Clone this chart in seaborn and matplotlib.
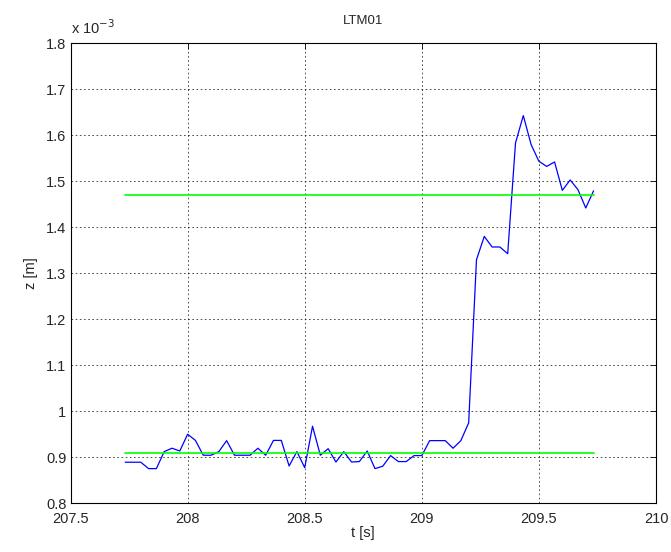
import numpy as np
import pandas as pd
import matplotlib
matplotlib.use("Agg")
import matplotlib.pyplot as plt
import seaborn as sns

# Sampled displacement, 30 Hz, values in units of 1e-3 m
t0 = 207.7333
fs = 30.0
z = [
    0.8896, 0.8896, 0.8896, 0.8757, 0.8757, 0.9126, 0.9200, 0.9140, 0.9504, 0.9370,
    0.9048, 0.9048, 0.9126, 0.9365, 0.9048, 0.9048, 0.9048, 0.9200, 0.9048, 0.9370,
    0.9370, 0.8815, 0.9126, 0.8778, 0.9678, 0.9048, 0.9190, 0.8900, 0.9126, 0.8900,
    0.8910, 0.9140, 0.8757, 0.8810, 0.9040, 0.8910, 0.8910, 0.9040, 0.9040, 0.9365,
    0.9365, 0.9365, 0.9200, 0.9365, 0.9750, 1.3293, 1.3800, 1.3570, 1.3570, 1.3424,
    1.5830, 1.6424, 1.5793, 1.5430, 1.5320, 1.5417, 1.4800, 1.5026, 1.4815, 1.4417,
    1.4790,
]
t = [t0 + i / fs for i in range(len(z))]

# Reference levels (before / after the step)
level_low = 0.9104
level_high = 1.4707
level_t = [t[0], t[-1]]

x_ticks = [207.5, 208, 208.5, 209, 209.5, 210]
x_labels = ["207.5", "208", "208.5", "209", "209.5", "210"]
y_ticks = [0.8, 0.9, 1.0, 1.1, 1.2, 1.3, 1.4, 1.5, 1.6, 1.7, 1.8]
y_labels = ["0.8", "0.9", "1", "1.1", "1.2", "1.3", "1.4", "1.5", "1.6", "1.7", "1.8"]

sns.set_style("white")
plt.rcParams["font.family"] = ["Liberation Sans", "DejaVu Sans"]

fig = plt.figure(figsize=(6.71, 5.52), dpi=100)
ax = fig.add_axes([0.1051, 0.0879, 0.8726, 0.8342])

df = pd.DataFrame({"t": t, "z": z})
sns.lineplot(data=df, x="t", y="z", ax=ax, color=(0, 0, 1), linewidth=0.9)
levels = pd.DataFrame({"t": level_t + level_t,
                       "z": [level_low, level_low, level_high, level_high],
                       "which": ["low", "low", "high", "high"]})
sns.lineplot(data=levels, x="t", y="z", units="which", estimator=None, ax=ax,
             color=(0, 1, 0), linewidth=1.2)

ax.set_xlim(207.5, 210)
ax.set_ylim(0.8, 1.8)
ax.set_xticks(x_ticks)
ax.set_xticklabels(x_labels)
ax.set_yticks(y_ticks)
ax.set_yticklabels(y_labels)
ax.tick_params(direction="in", length=4, width=0.6, labelsize=10.5,
               top=True, right=True, color="black")
ax.tick_params(axis="x", pad=6)
ax.tick_params(axis="y", pad=3)

ax.grid(True, color="black", linestyle=(0, (2, 3)), linewidth=0.6, alpha=0.8)
for s in ax.spines.values():
    s.set_color("black")
    s.set_linewidth(0.8)
    s.set_visible(True)

ax.set_xlabel("t [s]", fontsize=10.5, labelpad=0)
ax.set_ylabel("z [m]", fontsize=10.5, labelpad=6)
ax.set_title("LTM01", fontsize=9.5, pad=14)
ax.text(0.0, 1.012, r"x 10$^{-3}$", transform=ax.transAxes, fontsize=10.5,
        ha="left", va="bottom")

fig.savefig("out.png", dpi=100, facecolor="white")
